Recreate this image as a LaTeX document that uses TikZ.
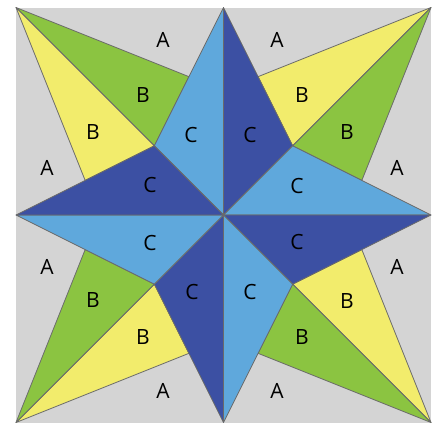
\documentclass[tikz,border=0pt]{standalone}
\usepackage{fontspec}
\setmainfont{Open Sans}
\usetikzlibrary{calc}
\definecolor{bggray}{HTML}{D4D4D4}
\definecolor{qgreen}{HTML}{8BC441}
\definecolor{qyellow}{HTML}{F2EC6C}
\definecolor{qlight}{HTML}{5FA8DC}
\definecolor{qdark}{HTML}{3C50A3}
\definecolor{qline}{HTML}{6A6A6A}
\tikzset{
  patch/.style={draw=qline, line width=0.8pt, line join=round},
  lab/.style={font=\fontsize{21}{21}\selectfont, inner sep=0pt, text=black}
}
\begin{document}
\begin{tikzpicture}[x=1pt,y=-1pt]
\useasboundingbox (0,0) rectangle (440,424);
\fill[white] (0,0) rectangle (440,424);
% key points
\coordinate (O) at (223.5,215);
\coordinate (T) at (223.5,7.5);
\coordinate (R) at (431,215);
\coordinate (B) at (223.5,422.5);
\coordinate (L) at (16,215);
\coordinate (cTL) at (16,7.5);
\coordinate (cTR) at (431,7.5);
\coordinate (cBR) at (431,422.5);
\coordinate (cBL) at (16,422.5);
\coordinate (iTL) at (154.33,145.83);
\coordinate (iTR) at (292.67,145.83);
\coordinate (iBR) at (292.67,284.17);
\coordinate (iBL) at (154.33,284.17);
\coordinate (mTLt) at ($(iTL)!0.5!(T)$);
\coordinate (mTLl) at ($(iTL)!0.5!(L)$);
\coordinate (mTRt) at ($(iTR)!0.5!(T)$);
\coordinate (mTRr) at ($(iTR)!0.5!(R)$);
\coordinate (mBRr) at ($(iBR)!0.5!(R)$);
\coordinate (mBRb) at ($(iBR)!0.5!(B)$);
\coordinate (mBLb) at ($(iBL)!0.5!(B)$);
\coordinate (mBLl) at ($(iBL)!0.5!(L)$);
% background
\fill[bggray] (cTL) rectangle (cBR);
% corner kites
\filldraw[patch, fill=qgreen] (cTL) -- (iTL) -- (mTLt) -- cycle;
\filldraw[patch, fill=qyellow] (cTL) -- (iTL) -- (mTLl) -- cycle;
\filldraw[patch, fill=qyellow] (cTR) -- (iTR) -- (mTRt) -- cycle;
\filldraw[patch, fill=qgreen] (cTR) -- (iTR) -- (mTRr) -- cycle;
\filldraw[patch, fill=qyellow] (cBR) -- (iBR) -- (mBRr) -- cycle;
\filldraw[patch, fill=qgreen] (cBR) -- (iBR) -- (mBRb) -- cycle;
\filldraw[patch, fill=qyellow] (cBL) -- (iBL) -- (mBLb) -- cycle;
\filldraw[patch, fill=qgreen] (cBL) -- (iBL) -- (mBLl) -- cycle;
% star
\filldraw[patch, fill=qlight] (O) -- (iTL) -- (T) -- cycle;
\filldraw[patch, fill=qdark] (O) -- (T) -- (iTR) -- cycle;
\filldraw[patch, fill=qlight] (O) -- (iTR) -- (R) -- cycle;
\filldraw[patch, fill=qdark] (O) -- (R) -- (iBR) -- cycle;
\filldraw[patch, fill=qlight] (O) -- (iBR) -- (B) -- cycle;
\filldraw[patch, fill=qdark] (O) -- (B) -- (iBL) -- cycle;
\filldraw[patch, fill=qlight] (O) -- (iBL) -- (L) -- cycle;
\filldraw[patch, fill=qdark] (O) -- (L) -- (iTL) -- cycle;
% labels A
\node[lab] (a1) at (163,40) {A};
\node[lab] (a2) at (277,40) {A};
\node[lab] (a3) at (47,168) {A};
\node[lab] (a4) at (397,168) {A};
\node[lab] (a5) at (47,267) {A};
\node[lab] (a6) at (397,267) {A};
\node[lab] (a7) at (163,391) {A};
\node[lab] (a8) at (277,391) {A};
% labels B
\node[lab] (b1) at (143,95) {B};
\node[lab] (b2) at (93,132) {B};
\node[lab] (b3) at (302,95) {B};
\node[lab] (b4) at (347,132) {B};
\node[lab] (b5) at (347,301) {B};
\node[lab] (b6) at (302,337) {B};
\node[lab] (b7) at (93,300) {B};
\node[lab] (b8) at (143,337) {B};
% labels C
\node[lab] (c1) at (191,135) {C};
\node[lab] (c2) at (250,135) {C};
\node[lab] (c3) at (150,185) {C};
\node[lab] (c4) at (297,186) {C};
\node[lab] (c5) at (150,243) {C};
\node[lab] (c6) at (297,242) {C};
\node[lab] (c7) at (192,292) {C};
\node[lab] (c8) at (250,292) {C};
\end{tikzpicture}
\end{document}
